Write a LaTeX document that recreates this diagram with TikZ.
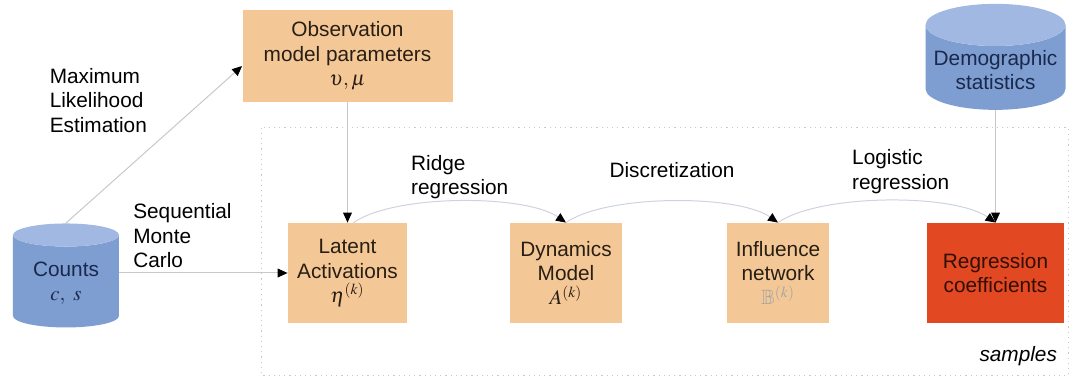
\documentclass[tikz,border=0pt]{standalone}
\usepackage{amsmath}
\usepackage{amssymb}
\usepackage{mathptmx}
\usepackage[no-math]{fontspec}
\setmainfont{Liberation Sans}
\usetikzlibrary{arrows.meta,shapes.geometric}
\definecolor{boxtan}{RGB}{244,200,150}
\definecolor{boxtext}{RGB}{40,30,20}
\definecolor{regred}{RGB}{226,72,34}
\definecolor{regtext}{RGB}{50,15,5}
\definecolor{dbbody}{RGB}{126,158,210}
\definecolor{dbtop}{RGB}{160,184,226}
\definecolor{dbtext}{RGB}{25,40,75}
\definecolor{linegray}{RGB}{200,200,200}
\definecolor{curvegray}{RGB}{205,212,222}
\definecolor{bbgray}{RGB}{165,165,165}

\begin{document}
\begin{tikzpicture}[
    font=\fontsize{10.4}{12.2}\selectfont,
    >={Triangle[length=5pt,width=4.4pt,color=black]},
    estbox/.style={rectangle, fill=boxtan, text=boxtext, align=center, inner sep=1pt, minimum height=50pt},
    db/.style={cylinder, shape border rotate=90, aspect=0.33, cylinder uses custom fill,
      cylinder body fill=dbbody, cylinder end fill=dbtop, text=dbtext, align=center, inner sep=1pt},
    link/.style={draw=linegray, line width=0.5pt},
    curvelink/.style={draw=curvegray, line width=0.5pt},
    samplebox/.style={draw=linegray, dotted, line width=0.6pt}
  ]
      \useasboundingbox (-173.75pt,-53pt) rectangle (363.25pt,136.5pt);

      \node [estbox, minimum width=59.5pt] (1) {Latent\\Activations\\$\eta^{(k)}$};
      \node [estbox, minimum width=56pt, right of=1, xshift=80.8pt] (2) {Dynamics\\Model\\$A^{(k)}$};
      \node [estbox, minimum width=51pt, right of=2, xshift=77.55pt] (3) {Influence\\network\\$\textcolor{bbgray}{\mathbb{B}^{(k)}}$};
      \node [estbox, minimum width=68.5pt, fill=regred, text=regtext, right of=3, xshift=80.3pt] (4) {Regression\\coefficients};
      \node [estbox, minimum width=105pt, minimum height=46pt, above of=1, yshift=80.05pt] (5) {Observation\\model parameters\\$\upsilon,\mu$};
      \node [db, minimum width=53pt, minimum height=52pt, left of=1, xshift=-112.3pt, yshift=-5pt] (6) {Counts\\$c,\ s$};
      \node [db, minimum width=70pt, minimum height=53pt, above of=4, yshift=73pt] (7) {Demographic\\statistics};
      \node [below of=4, xshift=34.25pt, yshift=-13pt, anchor=east, font=\fontsize{10.4}{12.2}\selectfont\itshape] (8) {samples};

      \draw [samplebox] ([xshift=-13pt,yshift=47.5pt]1.north west) rectangle ([xshift=2pt,yshift=-26pt]4.south east);

      \draw [link, ->] (6.90) -- node [above left, yshift=2.5pt, align=left] {Maximum\\Likelihood\\Estimation} ([yshift=-5pt]5.west);
      \draw [link, ->] (6.0 |- 1.west) -- node [pos=0.04, above right, yshift=-1pt, align=left] {Sequential\\Monte\\Carlo} (1.west);
      \draw [link, ->] (5.south) -- (1.north);
      \draw [curvelink, ->] ([xshift=3pt]1.north) to [out=35, in=145, looseness=0.6] node [above, yshift=-2.5pt, align=left] {Ridge\\regression} (2.north);
      \draw [curvelink, ->] (2.north) to [out=35, in=145, looseness=0.6] node [above, yshift=8pt] {Discretization} (3.north);
      \draw [curvelink, ->] (3.north) to [out=35, in=145, looseness=0.6] node [above, xshift=7pt, align=left] {Logistic\\regression} (4.north);
      \draw [link, ->] (7.270) -- (7.270 |- 4.north);
    \end{tikzpicture}
\end{document}
